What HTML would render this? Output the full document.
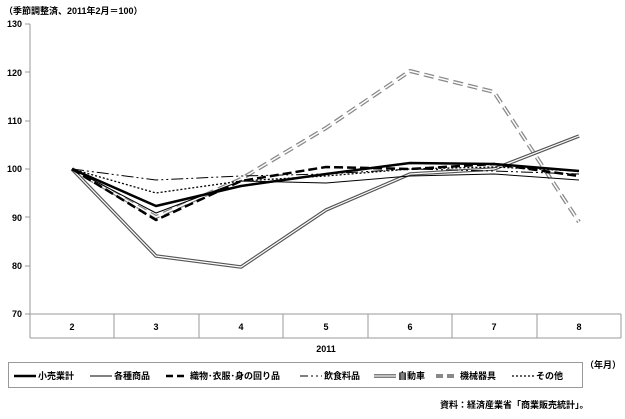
<!DOCTYPE html><html><head><meta charset="utf-8"><style>body{margin:0;background:#fff}svg text{font-family:"Liberation Sans","Noto Sans CJK JP",sans-serif;font-weight:bold}</style></head><body>
<svg width="625" height="414" viewBox="0 0 625 414" xmlns="http://www.w3.org/2000/svg">
<text x="4" y="14" font-size="9">（季節調整済、2011年2月＝100）</text>
<g font-size="9" text-anchor="end">
<text x="22" y="27">130</text><text x="22" y="76">120</text><text x="22" y="124">110</text><text x="22" y="172">100</text><text x="22" y="221">90</text><text x="22" y="269">80</text><text x="22" y="317">70</text></g>
<g stroke="#999" stroke-width="1" fill="none">
<line x1="30" y1="24" x2="30" y2="338"/>
<line x1="25" y1="24" x2="30" y2="24"/><line x1="25" y1="72" x2="30" y2="72"/><line x1="25" y1="121" x2="30" y2="121"/><line x1="25" y1="169" x2="30" y2="169"/><line x1="25" y1="217" x2="30" y2="217"/><line x1="25" y1="266" x2="30" y2="266"/>
<line x1="25" y1="314" x2="621" y2="314"/>
<line x1="114" y1="314" x2="114" y2="338"/><line x1="199" y1="314" x2="199" y2="338"/><line x1="283" y1="314" x2="283" y2="338"/><line x1="368" y1="314" x2="368" y2="338"/><line x1="452" y1="314" x2="452" y2="338"/><line x1="537" y1="314" x2="537" y2="338"/><line x1="621" y1="314" x2="621" y2="338"/>
<line x1="30" y1="338" x2="621" y2="338"/>
</g>
<g font-size="9" text-anchor="middle">
<text x="72" y="330">2</text><text x="156" y="330">3</text><text x="241" y="330">4</text><text x="326" y="330">5</text><text x="410" y="330">6</text><text x="494" y="330">7</text><text x="579" y="330">8</text>
<text x="326" y="352">2011</text></g>
<g fill="none" stroke-linejoin="round">
<polyline stroke="#888" stroke-width="4" stroke-dasharray="10,5" points="72,169 156,217 241,179 326,128 410,71 494,92 579,222"/>
<polyline stroke="#fff" stroke-width="1.5" stroke-dasharray="10,5" points="72,169 156,217 241,179 326,128 410,71 494,92 579,222"/>
<polyline stroke="#555" stroke-width="3.5" points="72,169 156,256 241,267 326,210 410,174 494,169 579,136"/>
<polyline stroke="#fff" stroke-width="1.2" points="72,169 156,256 241,267 326,210 410,174 494,169 579,136"/>
<polyline stroke="#000" stroke-width="1" stroke-dasharray="12,3,2,3,2,3" points="72,169 156,180 241,176 326,174 410,169 494,171 579,174"/>
<polyline stroke="#000" stroke-width="1.3" stroke-dasharray="2,2" points="72,169 156,193 241,181 326,176 410,169 494,167 579,171"/>
<polyline stroke="#000" stroke-width="1" points="72,169 156,213 241,181 326,183 410,176 494,174 579,180"/>
<polyline stroke="#000" stroke-width="2.5" stroke-dasharray="9,4" points="72,169 156,220 241,181 326,167 410,169 494,164 579,176"/>
<polyline stroke="#000" stroke-width="2.5" points="72,169 156,206 241,186 326,174 410,163 494,164 579,171"/>
</g>
<rect x="8.5" y="362.5" width="574" height="25" fill="none" stroke="#999"/>
<g font-size="9">
<line x1="14" y1="376" x2="36" y2="376" stroke="#000" stroke-width="2.5"/><text x="38" y="379">小売業計</text>
<line x1="90" y1="376" x2="112" y2="376" stroke="#000" stroke-width="1"/><text x="114" y="379">各種商品</text>
<line x1="166" y1="376" x2="188" y2="376" stroke="#000" stroke-width="2.5" stroke-dasharray="7,4"/><text x="190" y="379">織物･衣服･身の回り品</text>
<line x1="300" y1="376" x2="322" y2="376" stroke="#000" stroke-width="1" stroke-dasharray="8,3,2,3,2,3"/><text x="324" y="379">飲食料品</text>
<line x1="374" y1="376" x2="396" y2="376" stroke="#555" stroke-width="3.5"/><line x1="374" y1="376" x2="396" y2="376" stroke="#fff" stroke-width="1.2"/><text x="398" y="379">自動車</text>
<line x1="436" y1="376" x2="458" y2="376" stroke="#888" stroke-width="4" stroke-dasharray="7,4"/><text x="460" y="379">機械器具</text>
<line x1="512" y1="376" x2="534" y2="376" stroke="#000" stroke-width="1.3" stroke-dasharray="2,2"/><text x="536" y="379">その他</text>
<text x="585" y="368">（年月）</text>
<text x="440" y="408">資料：経済産業省「商業販売統計」。</text>
</g>
</svg></body></html>
